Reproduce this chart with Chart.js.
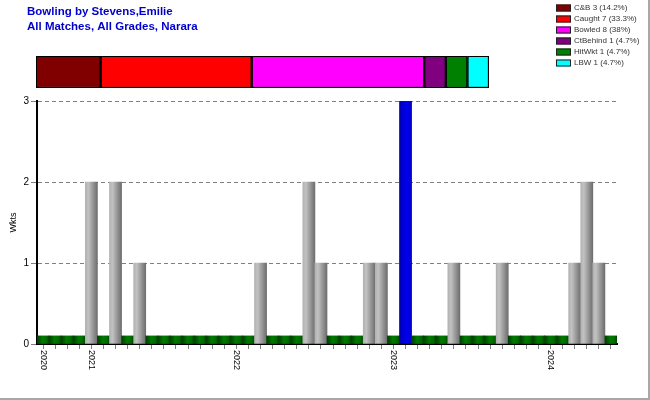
<!DOCTYPE html>
<html><head><meta charset="utf-8">
<script src="https://cdn.jsdelivr.net/npm/chart.js@4.4.1/dist/chart.umd.min.js"></script>
<style>
html,body{margin:0;padding:0;background:#fff;}
#wrap{position:relative;width:650px;height:400px;overflow:hidden;background:#fff;}
#main,#top{position:absolute;left:0;top:0;}
#frameR{position:absolute;left:648px;top:0;width:2px;height:400px;background:#a8a8a8;}
#frameB{position:absolute;left:0;top:398px;width:650px;height:2px;background:#a8a8a8;}
</style></head>
<body><div id="wrap"><canvas id="main" width="650" height="400"></canvas><canvas id="top" width="650" height="96"></canvas><div id="frameR"></div><div id="frameB"></div></div>
<script>
// ---- data ----
const titleLines = ['Bowling by Stevens,Emilie', 'All Matches, All Grades, Narara'];
const tickLabels = ['2020','','','','2021','','','','','','','','','','','',
  '2022','','','','','','','','','','','','','2023','','','','','','','','','','','','',
  '2024','','','','',''];
const wickets = [0,0,0,0,2,0,2,0,1,0, 0,0,0,0,0,0,0,0,1,0,
                 0,0,2,1,0,0,0,1,1,0, 3,0,0,0,1,0,0,0,1,0,
                 0,0,0,0,1,2,1,0];
const ZERO_MARK = 0.1; // stub bar shown for a match without wickets
const yTitle = 'Wkts';
const dismissTypes = ['C&B', 'Caught', 'Bowled', 'CtBehind', 'HitWkt', 'LBW'];
const dismissCounts = [3, 7, 8, 1, 1, 1];
const dismissPct = ['14.2%', '33.3%', '38%', '4.7%', '4.7%', '4.7%'];
const dismissColors = ['#800000', '#ff0000', '#ff00ff', '#800080', '#008000', '#00ffff'];

const FONT = '"Liberation Sans", Arial, Helvetica, sans-serif';
const greenStops = [[0,'#003e00'],[0.45,'#007a00'],[0.8,'#006a00'],[1,'#004400']];
const grayStops = [[0,'#b2b2b2'],[0.25,'#c2c2c2'],[0.6,'#9a9a9a'],[1,'#6e6e6e']];
const blueStops = [[0,'#0000b0'],[0.6,'#0000f0'],[1,'#0000cc']];
const maxW = Math.max(...wickets);

function barFill(ctx) {
  const chart = ctx.chart;
  const xs = chart.scales && chart.scales.x;
  const v = wickets[ctx.dataIndex];
  const stops = v === 0 ? greenStops : (v === maxW ? blueStops : grayStops);
  if (ctx.type !== 'data' || !chart.chartArea || !xs) return stops[1][1];
  const cx = xs.getPixelForValue(ctx.dataIndex);
  const half = (xs.right - xs.left) / tickLabels.length / 2;
  const g = chart.ctx.createLinearGradient(cx - half, 0, cx + half, 0);
  stops.forEach(([o, c]) => g.addColorStop(o, c));
  return g;
}

const xYearLabels = {
  id: 'xYearLabels',
  afterDraw(chart) {
    const xs = chart.scales.x, c = chart.ctx;
    c.save();
    c.font = '9px ' + FONT;
    c.fillStyle = '#000';
    c.textAlign = 'left';
    c.textBaseline = 'middle';
    tickLabels.forEach((t, i) => {
      if (!t) return;
      const x = xs.getPixelForTick(i);
      c.save();
      c.translate(x, xs.top + 6);
      c.rotate(Math.PI / 2);
      c.fillText(t, 0, 0);
      c.restore();
    });
    c.restore();
  }
};

new Chart(document.getElementById('main'), {
  type: 'bar',
  data: {
    labels: tickLabels,
    datasets: [{
      data: wickets.map(w => w === 0 ? ZERO_MARK : w),
      backgroundColor: barFill,
      borderWidth: 0,
      barPercentage: 1,
      categoryPercentage: 1
    }]
  },
  options: {
    responsive: false,
    animation: false,
    layout: { padding: { top: 101, right: 33, left: 0, bottom: 0 } },
    plugins: { legend: { display: false }, title: { display: false }, tooltip: { enabled: false } },
    scales: {
      x: {
        type: 'category',
        offset: true,
        grid: { offset: false, drawOnChartArea: false, drawTicks: true, tickLength: 5, tickColor: '#808080', tickWidth: 1 },
        border: { display: true, color: '#000', width: 2 },
        ticks: { display: false },
        afterFit(s) { s.height = 56; }
      },
      y: {
        min: 0, max: 3,
        ticks: { stepSize: 1, font: { size: 10, family: FONT }, color: '#000', padding: 2 },
        grid: { color: '#808080', lineWidth: 1, tickLength: 6, tickColor: '#808080', tickBorderDash: [] },
        border: { display: true, color: '#000', width: 2, dash: [4, 3] },
        title: { display: true, text: yTitle, font: { size: 9, family: FONT }, color: '#000', padding: { top: 8, bottom: 0 } },
        afterFit(s) { s.width = 37; }
      }
    }
  },
  plugins: [xYearLabels]
});

const sideLegend = {
  id: 'sideLegend',
  afterDraw(chart) {
    const c = chart.ctx;
    c.save();
    c.font = '8px ' + FONT;
    c.textAlign = 'left';
    c.textBaseline = 'middle';
    chart.data.datasets.forEach((ds, i) => {
      const y = 8 + i * 11;
      c.fillStyle = ds.backgroundColor;
      c.fillRect(556, y - 3.5, 15, 7);
      c.strokeStyle = '#202020';
      c.lineWidth = 1;
      c.strokeRect(556.5, y - 3, 14, 6);
      c.fillStyle = '#333';
      c.fillText(ds.label, 574, y);
    });
    c.restore();
  }
};

const total = dismissCounts.reduce((a, b) => a + b, 0);
new Chart(document.getElementById('top'), {
  type: 'bar',
  data: {
    labels: ['Dismissals'],
    datasets: dismissTypes.map((t, i) => ({
      label: t + ' ' + dismissCounts[i] + ' (' + dismissPct[i] + ')',
      data: [dismissCounts[i]],
      backgroundColor: dismissColors[i],
      borderColor: '#000',
      borderWidth: 1.5,
      borderSkipped: false,
      barPercentage: 1,
      categoryPercentage: 1
    }))
  },
  options: {
    indexAxis: 'y',
    responsive: false,
    animation: false,
    layout: { padding: { left: 27, right: 161, top: 0, bottom: 8 } },
    plugins: {
      legend: { display: false },
      tooltip: { enabled: false },
      title: {
        display: true, align: 'start', text: titleLines, color: '#0000cc',
        font: { family: FONT, size: 11.5, weight: 'bold', lineHeight: 1.3 },
        padding: { top: 4, bottom: 22 }
      }
    },
    scales: {
      x: { stacked: true, display: false, min: 0, max: total },
      y: { stacked: true, display: true, ticks: { display: false }, grid: { display: false }, border: { display: false },
           afterFit(s) { s.width = 9; } }
    }
  },
  plugins: [sideLegend]
});
</script>
</body></html>
